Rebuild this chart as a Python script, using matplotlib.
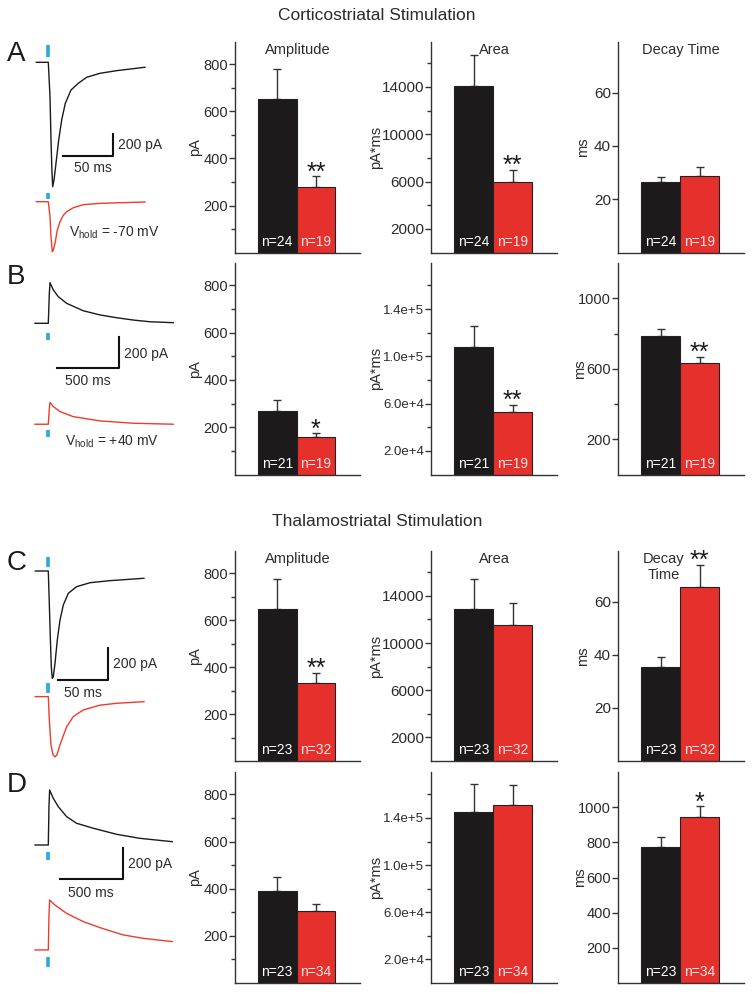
import matplotlib
matplotlib.use("Agg")
import matplotlib.pyplot as plt

plt.rcParams["font.family"] = ["Liberation Sans", "DejaVu Sans"]
plt.rcParams["mathtext.fontset"] = "custom"
plt.rcParams["mathtext.rm"] = "Liberation Sans"

W, H = 754, 993
BLACK = "#1c1a1a"
RED = "#e5302b"
TRACE_RED = "#ef3b2c"
BLUE = "#29a8df"
TXT = "#2b2b2b"

# ---- bar data, rows A, B, C, D ----
rows = ["A", "B", "C", "D"]
n_ctrl = [24, 21, 23, 23]
n_exp = [19, 19, 32, 34]

amp_ctrl = [652, 270, 646, 391]
amp_ctrl_sem = [127, 44, 129, 59]
amp_exp = [280, 157, 334, 306]
amp_exp_sem = [45, 18, 42, 29]
amp_stars = ["**", "*", "**", ""]

area_ctrl = [14040, 108300, 12860, 144700]
area_ctrl_sem = [2680, 17500, 2560, 24300]
area_exp = [6000, 52800, 11510, 151000]
area_exp_sem = [1020, 6200, 1860, 16700]
area_stars = ["**", "**", "", ""]

decay_ctrl = [26.6, 784, 35.5, 775]
decay_ctrl_sem = [1.9, 42, 3.5, 54]
decay_exp = [28.9, 633, 65.4, 946]
decay_exp_sem = [3.1, 36, 8.5, 60]
decay_stars = ["", "**", "**", "*"]

# ---- example traces (ms, pA) ----
tA_blk = [-12, 0, 1.7, 2.7, 3.7, 4.4, 5.7, 7.7, 10.4, 13.4, 17, 22.7, 30, 38.4, 51.7, 68.4, 96.7]
iA_blk = [0, 0, -312, -706, -1009, -1131, -1070, -918, -706, -524, -373, -252, -191, -136, -100, -76, -45]
tA_red = [-12, 0, 1.7, 2.7, 4, 5, 6.7, 9, 11.7, 15, 18.4, 25, 35, 51.7, 96.7]
iA_red = [0, 0, -136, -318, -455, -440, -379, -258, -182, -124, -91, -55, -27, -15, -3]

tB_blk = [-108, 0, 8.4, 13.8, 40.8, 81, 148, 283, 418, 553, 688, 823, 1012]
iB_blk = [0, 0, 194, 262, 215, 172, 129, 81, 54, 36, 21, 10, 4]
tB_red = [-108, 0, 8.4, 13.8, 40.8, 94, 202, 418, 688, 1012]
iB_red = [0, 0, 103, 140, 114, 82, 49, 21.5, 6.5, 0]

tC_blk = [-13, 0, 1, 2, 3, 4, 5, 6.7, 9, 11.7, 15, 20, 28.4, 41.7, 61.7, 95.7]
iC_blk = [0, 0, -204, -415, -605, -678, -668, -584, -436, -310, -215, -141, -99, -74, -61, -46]
tC_red = [-13, 0, 1, 2.7, 4.7, 6.7, 8.7, 10.7, 13.4, 18.4, 25, 35, 51.7, 68.4, 95.7]
iC_red = [0, 0, -147, -305, -368, -381, -368, -324, -274, -190, -126, -84, -54, -42, -32]

tD_blk = [-106, 0, 5.3, 10.6, 40, 80, 146, 226, 359, 545, 731, 989]
iD_blk = [0, 0, 247, 355, 301, 247, 183, 140, 108, 69, 43, 21.5]
tD_red = [-106, 0, 5.3, 10.6, 53, 146, 279, 412, 598, 758, 989]
iD_red = [0, 0, 215, 322, 290, 236, 183, 144, 97, 75, 54]

trace_t = [(tA_blk, tA_red), (tB_blk, tB_red), (tC_blk, tC_red), (tD_blk, tD_red)]
trace_i = [(iA_blk, iA_red), (iB_blk, iB_red), (iC_blk, iC_red), (iD_blk, iD_red)]
scale_ms = [50, 500, 50, 500]
scale_pa = [200, 200, 200, 200]
vhold = ["-70", "+40", None, None]

fig = plt.figure(figsize=(W / 100, H / 100), dpi=100)


def px_axes(l, t, r, b):
    return fig.add_axes([l / W, 1 - b / H, (r - l) / W, (b - t) / H])


# layout (pixels)
row_top = [42, 263, 551, 772]
row_bot = [252.6, 474.5, 761, 983]
col_lr = [(235, 360), (431, 557), (618, 744)]

# trace axes geometry: box, stim/baseline origin, ms per px, pA per px
tr_box = [(30, 260), (260, 460), (540, 760), (760, 990)]
tr_origin = [(48.3, 62.3), (48.3, 323.3), (48.3, 571), (48.3, 845)]
tr_scale = [(1.0, 9.09), (8.1, 6.45), (1.0, 6.32), (7.98, 6.45)]
red_offset = [-1267, -651, -794, -677]
blue_top = [(157, 51), (-61, -108), (90, 27), (-43, -97)]
blue_bot = [(-1185, -1245), (-688, -731), (-706, -773), (-720, -785)]
bar_t0 = [15, 73, 10, 94]
bar_i0 = [-852, -290, -689, -221]
pa_lab = [(70, -752), (612, -200), (65, -588), (633, -125)]
ms_lab = [(45, -964), (324, -370), (35, -769), (338, -308)]
vh_lab = [(21, -1554), (135, -764), None, None]

for k in range(4):
    top, bot = tr_box[k]
    ax = px_axes(0, top, 185, bot)
    x0, y0 = tr_origin[k]
    mpp, ppp = tr_scale[k]
    ax.set_xlim(-x0 * mpp, (185 - x0) * mpp)
    ax.set_ylim((y0 - bot) * ppp, (y0 - top) * ppp)
    ax.axis("off")
    tb, tr = trace_t[k]
    ib, ir = trace_i[k]
    ax.plot(tb, ib, color=BLACK, lw=1.0)
    ax.plot(tr, [v + red_offset[k] for v in ir], color=TRACE_RED, lw=1.0)
    ax.plot([0, 0], blue_top[k], color=BLUE, lw=2.6, solid_capstyle="butt")
    ax.plot([0, 0], blue_bot[k], color=BLUE, lw=2.6, solid_capstyle="butt")
    t0, i0 = bar_t0[k], bar_i0[k]
    t1 = t0 + scale_ms[k]
    ax.plot([t0, t1, t1], [i0, i0, i0 + scale_pa[k]], color="#111111", lw=1.5)
    ax.text(pa_lab[k][0], pa_lab[k][1], f"{scale_pa[k]} pA", fontsize=10,
            color=TXT, ha="left", va="center")
    ax.text(ms_lab[k][0], ms_lab[k][1], f"{scale_ms[k]} ms", fontsize=10,
            color=TXT, ha="center", va="center")
    if vhold[k]:
        ax.text(vh_lab[k][0], vh_lab[k][1], r"V$_{\mathrm{hold}}$ = " + vhold[k] + " mV",
                fontsize=10, color=TXT, ha="left", va="center")

panel_letter_y = [54, 276.7, 562.5, 785]
for k in range(4):
    fig.text(7 / W, 1 - panel_letter_y[k] / H, rows[k], fontsize=20, color="#1a1a1a",
             ha="left", va="center")

fig.text(0.5, 1 - 16 / H, "Corticostriatal Stimulation", fontsize=12.5, color=TXT,
         ha="center", va="center")
fig.text(0.5, 1 - 522 / H, "Thalamostriatal Stimulation", fontsize=12.5, color=TXT,
         ha="center", va="center")


def bar_panel(ax, vals, sems, ns, star, ylim, majors, labels, minors, ylabel, lab_x,
              tick_size=10.5):
    ax.bar([0, 1], vals, width=1, color=[BLACK, RED], edgecolor="#222222",
           linewidth=0.8, zorder=2)
    ax.errorbar([0, 1], vals, yerr=[[0, 0], sems], fmt="none", ecolor="#333333",
                elinewidth=1, capsize=3, capthick=1, zorder=1)
    ax.set_xlim(-1.09, 2.14)
    ax.set_ylim(0, ylim)
    ax.set_yticks(majors)
    ax.set_yticklabels(labels)
    ax.set_yticks(minors, minor=True)
    ax.set_xticks([])
    for s in ["top", "right"]:
        ax.spines[s].set_visible(False)
    for s in ["left", "bottom"]:
        ax.spines[s].set_color("#333333")
        ax.spines[s].set_linewidth(1)
    ax.tick_params(axis="y", which="major", direction="out", length=4, width=1,
                   colors="#333333", labelsize=tick_size, labelcolor=TXT, pad=1)
    ax.tick_params(axis="y", which="minor", direction="out", length=3, width=1,
                   colors="#333333")
    ax.set_ylabel(ylabel, fontsize=10.5, color=TXT, va="center")
    ax.yaxis.set_label_coords(lab_x, 0.5)
    for i, n in enumerate(ns):
        ax.text(i, 0.052, f"n={n}", transform=ax.get_xaxis_transform(), ha="center",
                va="center", fontsize=10, color="white" if i == 0 else "#fde6e6")
    if star:
        top = vals[1] + sems[1]
        ax.annotate(star, (1, top), xytext=(0, -2.5), textcoords="offset points",
                    ha="center", va="baseline", fontsize=18, color="#1a1a1a")


for k in range(4):
    t, b = row_top[k], row_bot[k]
    ns = [n_ctrl[k], n_exp[k]]
    # amplitude
    ax = px_axes(col_lr[0][0], t, col_lr[0][1], b)
    bar_panel(ax, [amp_ctrl[k], amp_exp[k]], [amp_ctrl_sem[k], amp_exp_sem[k]], ns,
              amp_stars[k], 895, [200, 400, 600, 800], ["200", "400", "600", "800"],
              [100, 300, 500, 700], "pA", -0.32)
    if k in (0, 2):
        ax.text(0.5, 0.995, "Amplitude", transform=ax.transAxes, ha="center", va="top",
                fontsize=10.5, color=TXT)
    # area
    ax = px_axes(col_lr[1][0], t, col_lr[1][1], b)
    if k in (0, 2):
        bar_panel(ax, [area_ctrl[k], area_exp[k]], [area_ctrl_sem[k], area_exp_sem[k]],
                  ns, area_stars[k], 17800, [2000, 6000, 10000, 14000],
                  ["2000", "6000", "10000", "14000"], [4000, 8000, 12000, 16000],
                  "pA*ms", -0.44, tick_size=11)
        ax.text(0.5, 0.995, "Area", transform=ax.transAxes, ha="center", va="top",
                fontsize=10.5, color=TXT)
    else:
        bar_panel(ax, [area_ctrl[k], area_exp[k]], [area_ctrl_sem[k], area_exp_sem[k]],
                  ns, area_stars[k], 179000, [20000, 60000, 100000, 140000],
                  ["2.0e+4", "6.0e+4", "1.0e+5", "1.4e+5"],
                  [40000, 80000, 120000, 160000], "pA*ms", -0.44, tick_size=9.5)
    # decay
    ax = px_axes(col_lr[2][0], t, col_lr[2][1], b)
    if k in (0, 2):
        bar_panel(ax, [decay_ctrl[k], decay_exp[k]], [decay_ctrl_sem[k], decay_exp_sem[k]],
                  ns, decay_stars[k], 79, [20, 40, 60], ["20", "40", "60"], [],
                  "ms", -0.28, tick_size=11)
        if k == 0:
            ax.text(0.5, 0.995, "Decay Time", transform=ax.transAxes, ha="center",
                    va="top", fontsize=10.5, color=TXT)
        else:
            ax.text(0.365, 0.995, "Decay\nTime", transform=ax.transAxes, ha="center",
                    va="top", fontsize=10.5, color=TXT, linespacing=1.2)
    elif k == 1:
        bar_panel(ax, [decay_ctrl[k], decay_exp[k]], [decay_ctrl_sem[k], decay_exp_sem[k]],
                  ns, decay_stars[k], 1200, [200, 600, 1000], ["200", "600", "1000"],
                  [400, 800], "ms", -0.305)
    else:
        bar_panel(ax, [decay_ctrl[k], decay_exp[k]], [decay_ctrl_sem[k], decay_exp_sem[k]],
                  ns, decay_stars[k], 1200, [200, 400, 600, 800, 1000],
                  ["200", "400", "600", "800", "1000"], [], "ms", -0.305)

fig.savefig("out.png", dpi=100, facecolor="white")
